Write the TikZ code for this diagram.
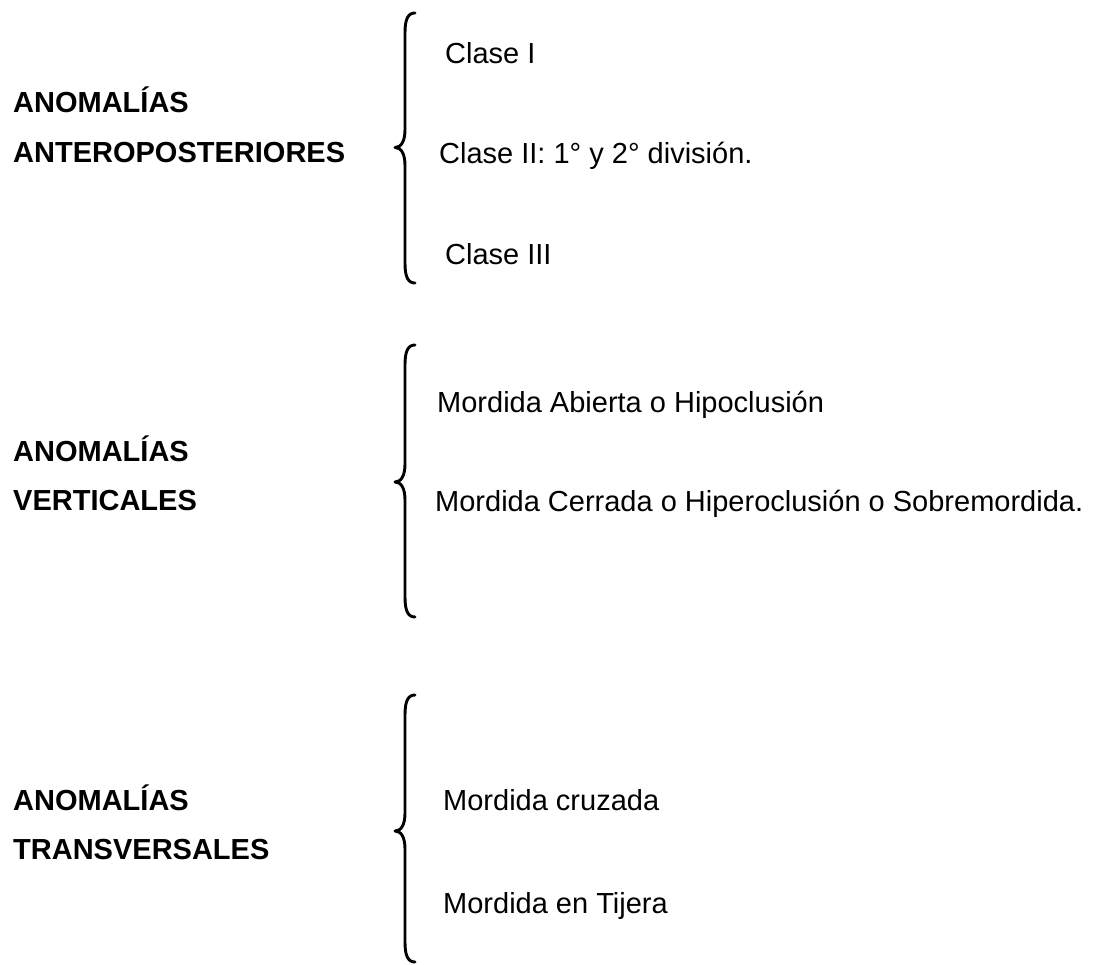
\documentclass[tikz,border=0pt]{standalone}
\usepackage{fontspec}
\setmainfont{Liberation Sans}
\begin{document}
\begin{tikzpicture}[x=1pt,y=-1pt,
  lbl/.style={anchor=base west,inner sep=0pt,font=\fontsize{29}{35}\selectfont\bfseries},
  itm/.style={anchor=base west,inner sep=0pt,font=\fontsize{29}{35}\selectfont},
  bracestroke/.style={line width=2.9pt,line cap=round,line join=round}]
\useasboundingbox[fill=white] (0,0) rectangle (1100,965);
\newcommand{\mybrace}[3]{% top, mid, bottom
  \draw[bracestroke] (415,#1) .. controls (408,#1) and (405,#1+6) .. (405,#1+20)
    -- (405,#2-18) .. controls (405,#2-6) and (401,#2) .. (395,#2)
    .. controls (401,#2) and (405,#2+6) .. (405,#2+18)
    -- (405,#3-20) .. controls (405,#3-6) and (408,#3) .. (415,#3);}
% group 1
\node[lbl] (g1a) at (13,113) {ANOMALÍAS};
\node[lbl] (g1b) at (13,163) {ANTEROPOSTERIORES};
\mybrace{13}{147.5}{283}
\node[itm] (c1) at (445,64) {Clase I};
\node[itm] (c2) at (439,164) {Clase II: 1° y 2° división.};
\node[itm] (c3) at (445,265) {Clase III};
% group 2
\node[lbl] (g2a) at (13,461) {ANOMALÍAS};
\node[lbl] (g2b) at (13,510) {VERTICALES};
\mybrace{345}{482}{617}
\node[itm] (v1) at (437,412) {Mordida Abierta o Hipoclusión};
\node[itm] (v2) at (435,511) {Mordida Cerrada o Hiperoclusión o Sobremordida.};
% group 3
\node[lbl] (g3a) at (13,810) {ANOMALÍAS};
\node[lbl] (g3b) at (13,859) {TRANSVERSALES};
\mybrace{695}{831}{962}
\node[itm] (t1) at (443,810) {Mordida cruzada};
\node[itm] (t2) at (443,913) {Mordida en Tijera};
\end{tikzpicture}
\end{document}
